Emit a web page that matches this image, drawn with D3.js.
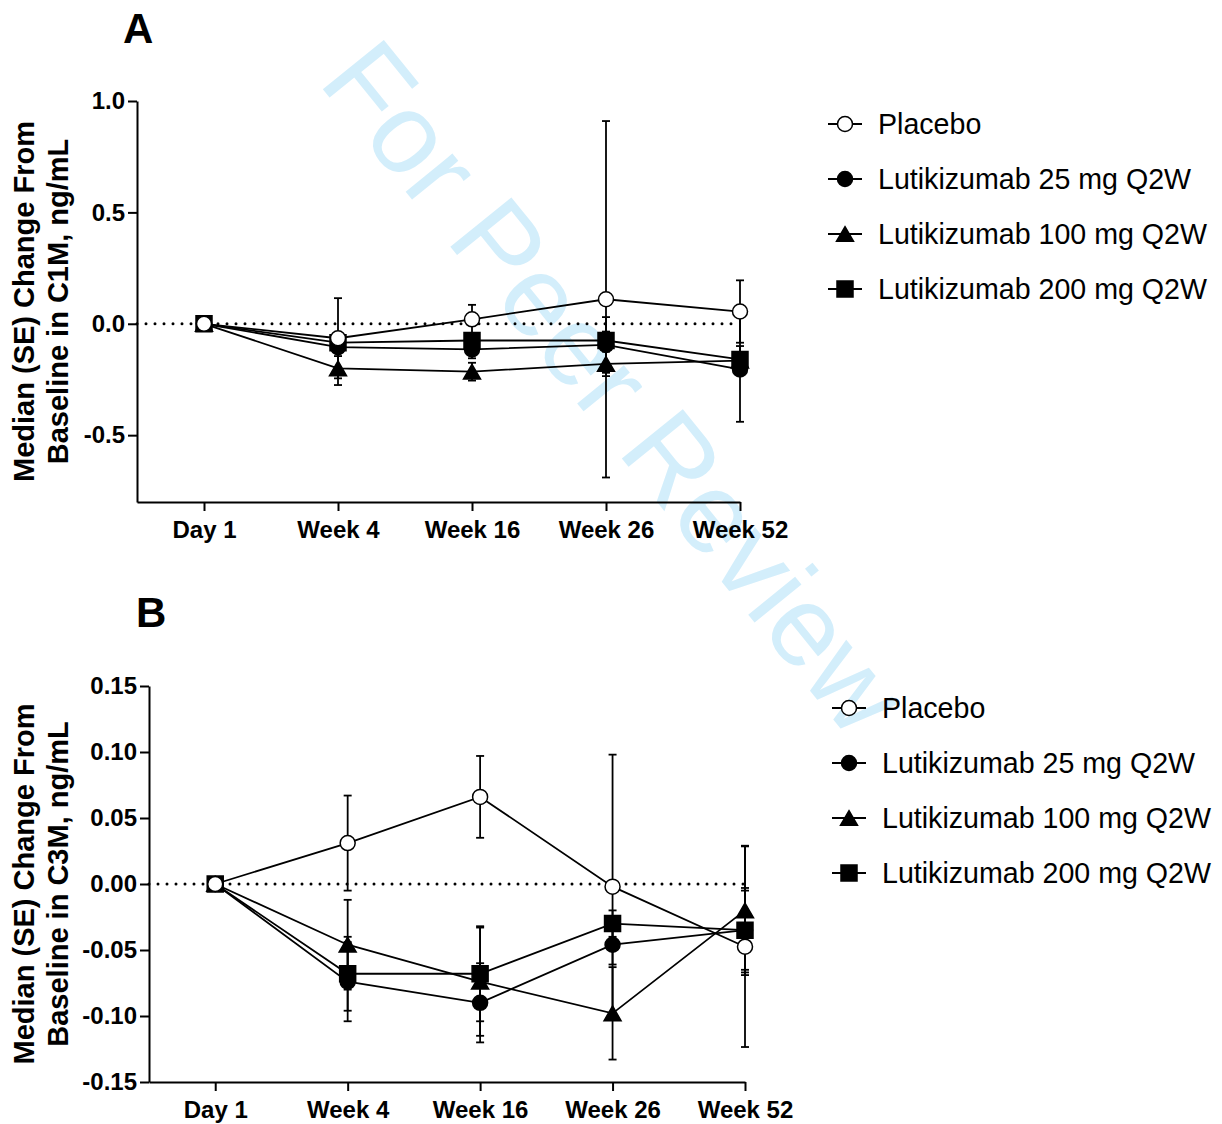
<!DOCTYPE html>
<html lang="en">
<head>
<meta charset="UTF-8">
<title>C1M / C3M change from baseline</title>
<script src="https://d3js.org/d3.v7.min.js"></script>
<style>
  body { margin: 0; background: #fff; }
  svg { font-family: "Liberation Sans", Arial, sans-serif; }
  .axis path, .axis line { stroke: #000; stroke-width: 2px; }
  .axis text { font-weight: bold; font-size: 24px; fill: #000; }
</style>
</head>
<body>
<svg></svg>
<script>
// categories and series
const timepoints = ["Day 1", "Week 4", "Week 16", "Week 26", "Week 52"];
const seriesNames = ["Placebo", "Lutikizumab 25 mg Q2W", "Lutikizumab 100 mg Q2W", "Lutikizumab 200 mg Q2W"];
const seriesSymbols = ["openCircle", "circle", "triangle", "square"];

// panel A: C1M, median and SE
const c1mPlacebo = [0, -0.065, 0.02, 0.11, 0.055];
const c1mPlaceboSE = [0, 0.18, 0.065, 0.80, 0.14];
const c1m25 = [0, -0.105, -0.115, -0.095, -0.205];
const c1m25SE = [0, 0.04, 0.04, 0.125, 0.235];
const c1m100 = [0, -0.20, -0.215, -0.18, -0.165];
const c1m100SE = [0, 0.075, 0.04, 0.055, 0.03];
const c1m200 = [0, -0.085, -0.075, -0.075, -0.16];
const c1m200SE = [0, 0.03, 0.03, 0.04, 0.06];
const c1mTicks = [-0.5, 0.0, 0.5, 1.0];

// panel B: C3M, median and SE
const c3mPlacebo = [0, 0.031, 0.066, -0.002, -0.0475];
const c3mPlaceboSE = [0, 0.036, 0.031, 0.10, 0.076];
const c3m25 = [0, -0.074, -0.09, -0.046, -0.035];
const c3m25SE = [0, 0.03, 0.03, 0.015, 0.03];
const c3m100 = [0, -0.046, -0.074, -0.098, -0.02];
const c3m100SE = [0, 0.034, 0.041, 0.035, 0.049];
const c3m200 = [0, -0.068, -0.068, -0.03, -0.035];
const c3m200SE = [0, 0.028, 0.036, 0.01, 0.032];
const c3mTicks = [-0.15, -0.10, -0.05, 0.00, 0.05, 0.10, 0.15];

const width = 1222, height = 1124;
const svg = d3.select("svg").attr("width", width).attr("height", height);

// watermark behind everything
svg.append("text")
    .attr("transform", "translate(317,82) rotate(51)")
    .attr("font-size", 114)
    .attr("fill", "#d3eefb")
    .text("For Peer Review");

function drawMarker(g, kind, x, y) {
    let d, dy = 0;
    if (kind === "square") d = d3.symbol(d3.symbolSquare, 16 * 16)();
    else if (kind === "triangle") {
        // side ~17px, shifted so the box is centred on the point
        const side = 17;
        d = d3.symbol(d3.symbolTriangle, Math.sqrt(3) / 4 * side * side)();
        dy = side * Math.sqrt(3) / 2 / 6;
    } else d = d3.symbol(d3.symbolCircle, Math.PI * 7.5 * 7.5)();
    g.append("path")
        .attr("d", d)
        .attr("transform", `translate(${x},${y + dy})`)
        .attr("fill", kind === "openCircle" ? "#fff" : "#000")
        .attr("stroke", "#000")
        .attr("stroke-width", 1.5);
}

function panel(opt) {
    const x = d3.scaleLinear().domain([-0.5, 4]).range([opt.left, opt.right]);
    const y = d3.scaleLinear().domain(opt.domain).range([opt.bottom, opt.top]);
    const g = svg.append("g");

    // dotted zero line
    g.append("line")
        .attr("x1", opt.left).attr("x2", x(4))
        .attr("y1", y(0)).attr("y2", y(0))
        .attr("stroke", "#000").attr("stroke-width", 3)
        .attr("stroke-linecap", "round")
        .attr("stroke-dasharray", "0,9");

    const xAxis = d3.axisBottom(x)
        .tickValues([0, 1, 2, 3, 4])
        .tickFormat(i => timepoints[i])
        .tickSize(9).tickSizeOuter(0).tickPadding(10);
    g.append("g").attr("class", "axis")
        .attr("transform", `translate(0,${opt.bottom})`)
        .call(xAxis);

    const yAxis = d3.axisLeft(y)
        .tickValues(opt.ticks)
        .tickFormat(d => d.toFixed(opt.decimals))
        .tickSize(9).tickSizeOuter(0).tickPadding(3);
    g.append("g").attr("class", "axis")
        .attr("transform", `translate(${opt.left},0)`)
        .call(yAxis);

    // axis title, two lines
    const cy = (opt.top + opt.bottom) / 2;
    g.append("text")
        .attr("transform", `translate(34,${cy}) rotate(-90)`)
        .attr("text-anchor", "middle").attr("font-weight", "bold").attr("font-size", 29)
        .text("Median (SE) Change From");
    g.append("text")
        .attr("transform", `translate(68,${cy}) rotate(-90)`)
        .attr("text-anchor", "middle").attr("font-weight", "bold").attr("font-size", 29)
        .text(opt.title2);

    // panel letter
    g.append("text")
        .attr("x", opt.letterX).attr("y", opt.letterY)
        .attr("font-weight", "bold").attr("font-size", 42)
        .text(opt.letter);

    const line = d3.line().x((d, i) => x(i)).y(d => y(d));
    const order = [3, 2, 1, 0];

    order.forEach(s => {
        g.append("path")
            .attr("d", line(opt.values[s]))
            .attr("fill", "none").attr("stroke", "#000").attr("stroke-width", 1.8);
    });

    order.forEach(s => {
        opt.values[s].forEach((v, i) => {
            const e = opt.errors[s][i];
            if (!e) return;
            const xi = x(i);
            g.append("line")
                .attr("x1", xi).attr("x2", xi)
                .attr("y1", y(v - e)).attr("y2", y(v + e))
                .attr("stroke", "#000").attr("stroke-width", 1.8);
            [v - e, v + e].forEach(w => {
                g.append("line")
                    .attr("x1", xi - 4).attr("x2", xi + 4)
                    .attr("y1", y(w)).attr("y2", y(w))
                    .attr("stroke", "#000").attr("stroke-width", 1.8);
            });
        });
    });

    order.forEach(s => {
        opt.values[s].forEach((v, i) => drawMarker(g, seriesSymbols[s], x(i), y(v)));
    });

    // legend
    seriesNames.forEach((name, s) => {
        const ly = opt.legendY + s * 55;
        g.append("line")
            .attr("x1", opt.legendX - 17).attr("x2", opt.legendX + 17)
            .attr("y1", ly).attr("y2", ly)
            .attr("stroke", "#000").attr("stroke-width", 1.8);
        drawMarker(g, seriesSymbols[s], opt.legendX, ly);
        g.append("text")
            .attr("x", opt.legendX + 33).attr("y", ly)
            .attr("dy", "0.35em")
            .attr("font-size", 28.6)
            .text(name);
    });
}

panel({
    left: 137, right: 740, top: 101, bottom: 502,
    domain: [-0.8, 1.0], ticks: c1mTicks, decimals: 1,
    values: [c1mPlacebo, c1m25, c1m100, c1m200],
    errors: [c1mPlaceboSE, c1m25SE, c1m100SE, c1m200SE],
    title2: "Baseline in C1M, ng/mL",
    letter: "A", letterX: 123, letterY: 43,
    legendX: 845, legendY: 124
});

panel({
    left: 149, right: 745, top: 686, bottom: 1082,
    domain: [-0.15, 0.15], ticks: c3mTicks, decimals: 2,
    values: [c3mPlacebo, c3m25, c3m100, c3m200],
    errors: [c3mPlaceboSE, c3m25SE, c3m100SE, c3m200SE],
    title2: "Baseline in C3M, ng/mL",
    letter: "B", letterX: 136, letterY: 627,
    legendX: 849, legendY: 708
});
</script>
</body>
</html>
